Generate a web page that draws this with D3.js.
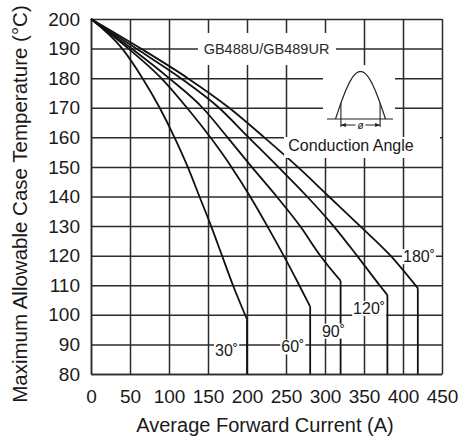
<!DOCTYPE html>
<html>
<head>
<meta charset="utf-8">
<script src="https://cdn.jsdelivr.net/npm/d3@7"></script>
<style>
body { margin: 0; background: #fff; }
svg { display: block; font-family: "Liberation Sans", Arial, sans-serif; }
</style>
</head>
<body>
<script>
const w = 460, h = 439;
const plotL = 91, plotR = 442, plotT = 19, plotB = 374;

// axis ticks
const xTicks = [0, 50, 100, 150, 200, 250, 300, 350, 400, 450];
const yTicks = [80, 90, 100, 110, 120, 130, 140, 150, 160, 170, 180, 190, 200];

// case temperature rows, current (A) read for each conduction angle
const tempGrid = [200, 190, 180, 170, 160, 150, 140, 130, 120, 110];
const amps30  = [0, 40, 66, 88, 107, 124, 139, 154, 168, 182];
const amps60  = [0, 48, 90, 123, 153, 180, 204, 226, 247, 267];
const amps90  = [0, 52, 100, 143, 175, 206, 238, 268, 294];
const amps120 = [0, 58, 115, 164, 202, 240, 277, 311, 341, 370];
const amps180 = [0, 64, 124, 177, 222, 265, 305, 345, 384];

// where each curve stops and drops straight down
const kneeAmps  = [200, 281, 320, 380, 419];
const kneeTemps = [98.5, 102.8, 111.5, 106.7, 109];

const angleLabels = ['30˚', '60˚', '90˚', '120˚', '180˚'];
const labelAmps  = [159, 244, 296, 336, 400];
const labelTemps = [88.1, 89.2, 94.5, 102.2, 119.7];

const svg = d3.select('body').append('svg').attr('width', w).attr('height', h);

const x = d3.scaleLinear().domain([0, 450]).range([plotL, plotR]);
const y = d3.scaleLinear().domain([80, 200]).range([plotB, plotT]);

// grid + tick labels
const gx = svg.append('g').attr('transform', 'translate(0,' + plotB + ')')
  .call(d3.axisBottom(x).tickValues(xTicks).tickSize(-(plotB - plotT)).tickSizeOuter(0).tickPadding(16));
const gy = svg.append('g').attr('transform', 'translate(' + plotL + ',0)')
  .call(d3.axisLeft(y).tickValues(yTicks).tickSize(-(plotR - plotL)).tickSizeOuter(0).tickPadding(11));

[gx, gy].forEach(g => {
  g.select('.domain').attr('stroke', '#2b2b2b').attr('stroke-width', 1.5);
  g.selectAll('.tick line').attr('stroke', '#2b2b2b').attr('stroke-width', 1.5);
  g.selectAll('.tick text').attr('fill', '#1a1a1a').style('font-size', '19px').style('font-family', '"Liberation Sans", Arial, sans-serif');
});

// curves
const line = d3.line().x(d => x(d[0])).y(d => y(d[1])).curve(d3.curveMonotoneX);
[amps30, amps60, amps90, amps120, amps180].forEach((amps, i) => {
  const pts = amps.map((a, j) => [a, tempGrid[j]]);
  pts.push([kneeAmps[i], kneeTemps[i]]);
  svg.append('path').attr('d', line(pts))
    .attr('fill', 'none').attr('stroke', '#111').attr('stroke-width', 1.8);
  svg.append('line')
    .attr('x1', x(kneeAmps[i])).attr('x2', x(kneeAmps[i]))
    .attr('y1', y(kneeTemps[i])).attr('y2', y(80))
    .attr('stroke', '#111').attr('stroke-width', 1.8);
});

// angle labels with white backing
angleLabels.forEach((t, i) => {
  const g = svg.append('g');
  const txt = g.append('text')
    .attr('x', x(labelAmps[i])).attr('y', y(labelTemps[i]))
    .attr('dy', '0.35em').attr('fill', '#1a1a1a')
    .style('font-size', '16px').text(t);
  const b = txt.node().getBBox();
  g.insert('rect', 'text').attr('x', b.x - 1).attr('y', b.y + 1)
    .attr('width', b.width + 2).attr('height', b.height - 2).attr('fill', '#fff');
});

// part number
svg.append('rect').attr('x', 198).attr('y', 33).attr('width', 138).attr('height', 32).attr('fill', '#fff');
svg.append('text').attr('x', 266.5).attr('y', y(190)).attr('dy', '0.35em')
  .attr('text-anchor', 'middle').attr('fill', '#2a2a2a')
  .style('font-size', '14.5px').text('GB488U/GB489UR');

// conduction angle inset
svg.append('rect').attr('x', 323).attr('y', 65).attr('width', 72).attr('height', 73).attr('fill', '#fff');
svg.append('rect').attr('x', 284).attr('y', 137).attr('width', 156).attr('height', 21).attr('fill', '#fff');

const ix = d3.scaleLinear().domain([0, Math.PI]).range([335.5, 385.5]);
const iy = d3.scaleLinear().domain([0, 1]).range([119, 71.5]);
const hump = d3.range(0, 41).map(k => k * Math.PI / 40);
svg.append('path')
  .attr('d', d3.line().x(d => ix(d)).y(d => iy(Math.sin(d)))(hump))
  .attr('fill', 'none').attr('stroke', '#222').attr('stroke-width', 1.2);
svg.append('line').attr('x1', 327).attr('x2', 393).attr('y1', 119).attr('y2', 119)
  .attr('stroke', '#222').attr('stroke-width', 1.2);
[0.34, Math.PI - 0.34].forEach(a => {
  svg.append('line').attr('x1', ix(a)).attr('x2', ix(a)).attr('y1', iy(Math.sin(a))).attr('y2', 127)
    .attr('stroke', '#222').attr('stroke-width', 1.1);
});
const ax0 = ix(0.34), ax1 = ix(Math.PI - 0.34), ay = 125;
svg.append('line').attr('x1', ax0).attr('x2', ax1).attr('y1', ay).attr('y2', ay)
  .attr('stroke', '#222').attr('stroke-width', 1);
svg.append('path')
  .attr('d', `M${ax0},${ay}l5,-2v4z M${ax1},${ay}l-5,-2v4z`).attr('fill', '#222');
svg.append('rect').attr('x', (ax0 + ax1) / 2 - 5).attr('y', ay - 5).attr('width', 10).attr('height', 10).attr('fill', '#fff');
svg.append('text').attr('x', (ax0 + ax1) / 2).attr('y', ay).attr('dy', '0.35em')
  .attr('text-anchor', 'middle').attr('fill', '#222')
  .style('font-size', '10px').style('font-style', 'italic').text('ø');

svg.append('text').attr('x', 351).attr('y', 151)
  .attr('text-anchor', 'middle').attr('fill', '#1a1a1a')
  .style('font-size', '16px').text('Conduction Angle');

// axis titles
svg.append('text').attr('x', 265).attr('y', 432)
  .attr('text-anchor', 'middle').attr('fill', '#1a1a1a')
  .style('font-size', '20px').text('Average Forward Current (A)');

svg.append('text').attr('transform', 'translate(27,204) rotate(-90)')
  .attr('text-anchor', 'middle').attr('fill', '#1a1a1a')
  .style('font-size', '20.5px').text('Maximum Allowable Case Temperature (°C)');
</script>
</body>
</html>
